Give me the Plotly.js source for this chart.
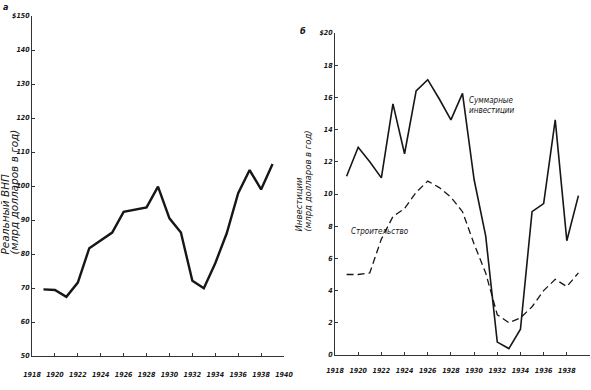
<!DOCTYPE html>
<html>
<head>
<meta charset="utf-8">
<script src="https://cdn.plot.ly/plotly-3.0.1.min.js"></script>
<style>
html,body{margin:0;padding:0;background:#fff;}
#chart{width:591px;height:390px;}
</style>
</head>
<body>
<div id="chart"></div>
<script>
// ---- Data ----
var years = [1919,1920,1921,1922,1923,1924,1925,1926,1927,1928,1929,1930,1931,1932,1933,1934,1935,1936,1937,1938,1939];
// Panel a: real GNP, billions of dollars per year
var realGNP = [69.6,69.4,67.4,71.6,81.7,84.1,86.3,92.4,93.1,93.7,99.8,90.5,86.3,72.1,69.9,77.3,86.1,97.9,104.7,99.0,106.5];
// Panel b: investment, billions of dollars per year
var totalInvestment = [11.1,12.9,12.0,11.0,15.6,12.5,16.4,17.1,15.9,14.6,16.25,10.9,7.4,0.8,0.4,1.6,8.9,9.4,14.6,7.1,9.9];
var construction = [5.0,5.0,5.1,7.2,8.6,9.1,10.1,10.8,10.4,9.8,8.9,6.9,5.1,2.5,2.0,2.3,3.0,4.0,4.7,4.25,5.1];

var xTickVals = [1918,1920,1922,1924,1926,1928,1930,1932,1934,1936,1938,1940];
var xTickText = ['1918','1920','1922','1924','1926','1928','1930','1932','1934','1936','1938','1940'];
var gnpTickVals = [50,60,70,80,90,100,110,120,130,140,150];
var gnpTickText = ['50','60','70','80','90','100','110','120','130','140','$150'];
var invTickVals = [0,2,4,6,8,10,12,14,16,18,20];
var invTickText = ['0','2','4','6','8','10','12','14','16','18','$20'];

var seriesNames = ['Реальный ВНП','Суммарные инвестиции','Строительство'];
var yTitleA = ['Реальный ВНП','(млрд долларов в год)'];
var yTitleB = ['Инвестиции','(млрд долларов в год)'];

// ---- Layout helpers ----
var W = 591, H = 390;
function px(x){ return x / W; }
function py(y){ return 1 - y / H; }
var FONT = 'Liberation Sans Narrow, DejaVu Sans Condensed, Arial Narrow, Liberation Sans, sans-serif';
var TFONT = 'DejaVu Sans, Liberation Sans, sans-serif';
var INK = '#161616';

var tickFont = {family: FONT, size: 7, color: INK, style: 'italic', weight: 700};

function xAxis(domain, anchor, standoff){
  return {
    domain: domain, anchor: anchor, range: [1918, 1940],
    tickvals: xTickVals, ticktext: xTickText,
    showgrid: false, zeroline: false, showline: true, linecolor: '#333', linewidth: 1,
    ticks: 'inside', ticklen: 3, tickcolor: '#333', tickwidth: 1,
    tickfont: tickFont, ticklabelstandoff: standoff, fixedrange: true
  };
}
function yAxis(domain, anchor, range, vals, text){
  return {
    domain: domain, anchor: anchor, range: range,
    tickvals: vals, ticktext: text,
    showgrid: false, zeroline: false, showline: true, linecolor: '#333', linewidth: 1,
    ticks: 'inside', ticklen: 3, tickcolor: '#333', tickwidth: 1,
    tickfont: tickFont, fixedrange: true
  };
}

var traces = [
  {x: years, y: realGNP, xaxis: 'x', yaxis: 'y', mode: 'lines', name: seriesNames[0],
   line: {color: INK, width: 2.4, shape: 'linear'}, hoverinfo: 'skip'},
  {x: years, y: totalInvestment, xaxis: 'x2', yaxis: 'y2', mode: 'lines', name: seriesNames[1],
   line: {color: INK, width: 1.6}, hoverinfo: 'skip'},
  {x: years, y: construction, xaxis: 'x2', yaxis: 'y2', mode: 'lines', name: seriesNames[2],
   line: {color: INK, width: 1.3, dash: '7px,4px'}, hoverinfo: 'skip'}
];

var annFont = {family: FONT, size: 8, color: INK, style: 'italic'};

function vTitle(text, xPix, bottomPix, size){
  return {text: text, xref: 'paper', yref: 'paper', x: px(xPix), y: py(bottomPix),
    textangle: -90, xanchor: 'center', yanchor: 'bottom', showarrow: false,
    font: {family: TFONT, size: size, color: INK, style: 'italic'}};
}

var layout = {
  width: W, height: H,
  margin: {l: 0, r: 0, t: 0, b: 0, pad: 0},
  paper_bgcolor: '#fff', plot_bgcolor: '#fff',
  showlegend: false,
  xaxis: xAxis([px(32), px(284)], 'y', 12),
  yaxis: yAxis([py(356), py(16)], 'x', [50, 150], gnpTickVals, gnpTickText),
  xaxis2: xAxis([px(335), px(590)], 'y2', 9),
  yaxis2: yAxis([py(355), py(33)], 'x2', [0, 20], invTickVals, invTickText),
  annotations: [
    {text: 'а', xref: 'paper', yref: 'paper', x: px(6), y: 1, xanchor: 'center', yanchor: 'top',
     showarrow: false, font: {family: FONT, size: 9, color: INK, style: 'italic', weight: 700}},
    {text: 'б', xref: 'paper', yref: 'paper', x: px(303), y: py(24), showarrow: false,
     font: {family: FONT, size: 9, color: INK, style: 'italic', weight: 700}},
    vTitle(yTitleA[0], 4, 257, 10.5),
    vTitle(yTitleA[1], 13, 257, 10.5),
    vTitle(yTitleB[0], 298, 234, 8.5),
    vTitle(yTitleB[1], 307, 234, 8.5),
    {text: 'Суммарные<br>инвестиции', xref: 'paper', yref: 'paper', x: px(467), y: py(94),
     xanchor: 'left', showarrow: false, align: 'left', font: annFont},
    {text: seriesNames[2], xref: 'paper', yref: 'paper', x: px(411), y: py(231),
     showarrow: false, font: annFont}
  ]
};

Plotly.newPlot('chart', traces, layout, {staticPlot: true, displayModeBar: false});
</script>
</body>
</html>
